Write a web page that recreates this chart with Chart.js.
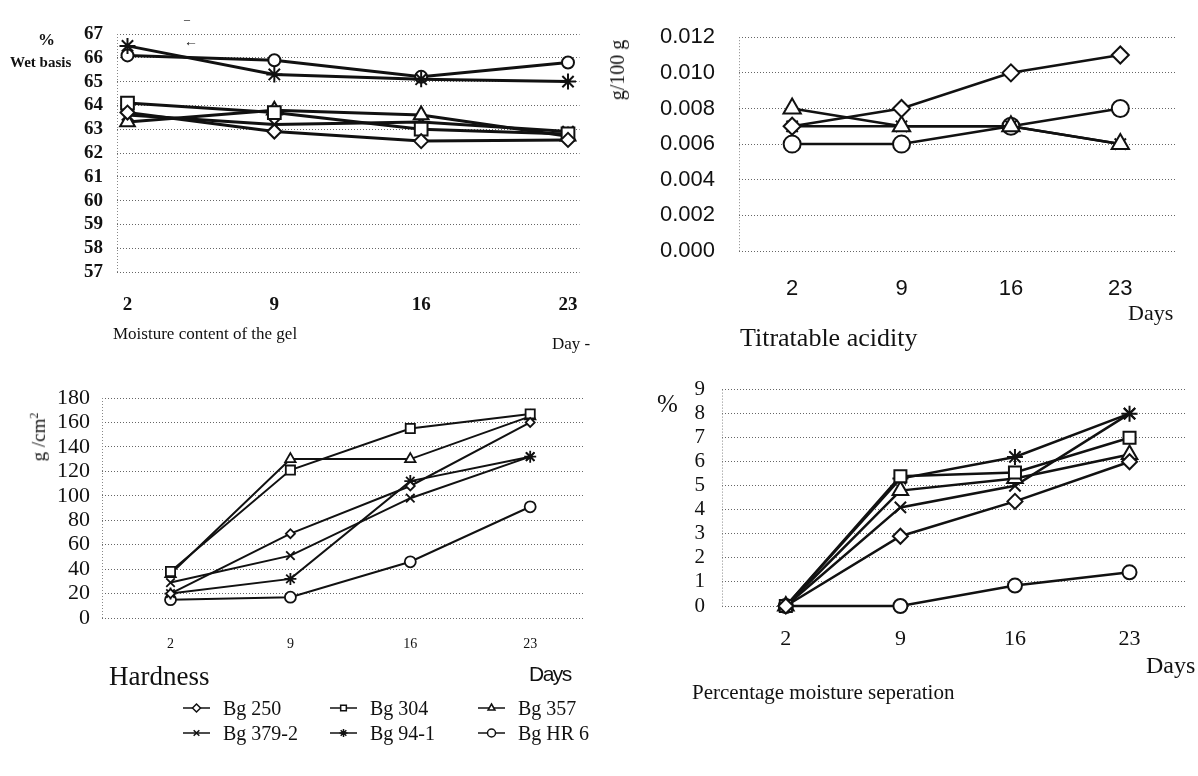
<!DOCTYPE html>
<html>
<head>
<meta charset="utf-8">
<script src="https://cdn.jsdelivr.net/npm/chart.js@4.4.1/dist/chart.umd.min.js"></script>
<style>
body { margin:0; background:#fff; width:1198px; height:776px; position:relative; overflow:hidden; font-family:"Liberation Serif", serif; color:#111; }
canvas { position:absolute; }
.lbl { position:absolute; white-space:nowrap; line-height:1; transform:translateY(-50%); }
.rot { position:absolute; white-space:nowrap; line-height:1; transform:translate(-50%,-50%) rotate(-90deg); }
</style>
</head>
<body>
<canvas id="c1" width="600" height="330" style="left:0;top:0"></canvas>
<canvas id="c2" width="598" height="330" style="left:600px;top:0"></canvas>
<canvas id="c3" width="600" height="330" style="left:0;top:360px"></canvas>
<canvas id="c4" width="598" height="330" style="left:600px;top:360px"></canvas>
<canvas id="leg" width="600" height="80" style="left:0;top:690px"></canvas>

<div class="lbl" style="left:38px;top:39px;font-size:17px;font-weight:bold">%</div>
<div class="lbl" style="left:10px;top:62px;font-size:15px;font-weight:bold">Wet basis</div>
<div class="lbl" style="left:184px;top:19px;font-size:12px">‒</div>
<div class="lbl" style="left:184px;top:42px;font-size:14px">←</div>
<div class="lbl" style="left:113px;top:333px;font-size:17px">Moisture content of the gel</div>
<div class="lbl" style="left:552px;top:343px;font-size:17px">Day -</div>

<div class="rot" style="left:617px;top:70px;font-size:20px">g/100 g</div>
<div class="lbl" style="left:1128px;top:313px;font-size:22px">Days</div>
<div class="lbl" style="left:740px;top:338px;font-size:26px">Titratable acidity</div>

<div class="rot" style="left:38px;top:437px;font-size:19px">g /cm<sup style="font-size:12px">2</sup></div>
<div class="lbl" style="left:109px;top:676px;font-size:27px">Hardness</div>
<div class="lbl" style="left:529px;top:673px;font-size:21px;font-family:'Liberation Sans',sans-serif;letter-spacing:-1.5px">Days</div>

<div class="lbl" style="left:657px;top:403px;font-size:25px">%</div>
<div class="lbl" style="left:1146px;top:665px;font-size:24px">Days</div>
<div class="lbl" style="left:692px;top:692px;font-size:21px">Percentage moisture seperation</div>

<div id="legtext"></div>

<script>
// storage days and rice varieties
var days = [2, 9, 16, 23];
var varieties = ['Bg 250', 'Bg 304', 'Bg 357', 'Bg 379-2', 'Bg 94-1', 'Bg HR 6'];

// one row per variety, same order as varieties
var moisture = [
    [63.7, 62.9, 62.5, 62.55],
    [64.1, 63.7, 63.0, 62.8],
    [63.3, 63.8, 63.6, 62.7],
    [63.6, 63.2, 63.3, 62.9],
    [66.5, 65.3, 65.1, 65.0],
    [66.1, 65.9, 65.2, 65.8]
];
var acidity = [
    [0.007, 0.008, 0.010, 0.011],
    null,
    [0.008, 0.007, 0.007, 0.006],
    [0.007, 0.007, 0.007, 0.006],
    null,
    [0.006, 0.006, 0.007, 0.008]
];
var hardness = [
    [20, 69, 108, 160],
    [38, 121, 155, 167],
    [36, 130, 130, 165],
    [29, 51, 98, 132],
    [20, 32, 112, 132],
    [15, 17, 46, 91]
];
var separation = [
    [0, 2.9, 4.35, 6.0],
    [0, 5.4, 5.55, 7.0],
    [0, 4.8, 5.3, 6.3],
    [0, 4.1, 5.0, 8.0],
    [0, 5.3, 6.2, 8.0],
    [0, 0, 0.85, 1.4]
];

var moistureTicks = [57, 58, 59, 60, 61, 62, 63, 64, 65, 66, 67];
var acidityTicks = [0, 0.002, 0.004, 0.006, 0.008, 0.010, 0.012];
var hardnessTicks = [0, 20, 40, 60, 80, 100, 120, 140, 160, 180];
var separationTicks = [0, 1, 2, 3, 4, 5, 6, 7, 8, 9];

var markers = ['rectRot', 'rect', 'triangle', 'crossRot', 'star', 'circle'];

var leftLine = {
    id: 'leftLine',
    beforeDatasetsDraw: function (chart) {
        var a = chart.chartArea, c = chart.ctx;
        c.save();
        c.strokeStyle = '#888';
        c.lineWidth = 1;
        c.setLineDash([1, 2]);
        c.beginPath();
        c.moveTo(a.left + 0.5, a.top);
        c.lineTo(a.left + 0.5, a.bottom);
        c.stroke();
        c.restore();
    }
};

function desenare(id, valori, o) {
    var datasets = [];
    for (var i = 0; i < varieties.length; i++) {
        if (!valori[i]) continue;
        var pts = [];
        for (var j = 0; j < days.length; j++) pts.push({ x: days[j], y: valori[i][j] });
        datasets.push({
            label: varieties[i],
            data: pts,
            borderColor: '#111',
            backgroundColor: '#fff',
            borderWidth: o.lw,
            pointStyle: markers[i],
            pointRadius: o.pr[i],
            pointBorderWidth: o.pbw,
            pointBorderColor: '#111',
            pointBackgroundColor: '#fff',
            tension: 0,
            clip: false
        });
    }
    return new Chart(document.getElementById(id).getContext('2d'), {
        type: 'line',
        data: { datasets: datasets },
        plugins: [leftLine],
        options: {
            responsive: false,
            animation: false,
            layout: { padding: { left: 0, right: o.right, top: o.top, bottom: 0 } },
            plugins: { legend: { display: false }, tooltip: { enabled: false } },
            scales: {
                x: {
                    type: 'linear',
                    min: o.xmin,
                    max: o.xmax,
                    afterBuildTicks: function (s) { s.ticks = days.map(function (d) { return { value: d }; }); },
                    afterFit: function (s) { s.height = o.xh; },
                    grid: { display: false, drawTicks: false },
                    border: { display: false },
                    ticks: { font: o.xfont, color: '#111', padding: o.xpad, maxRotation: 0, autoSkip: false }
                },
                y: {
                    min: o.ymin,
                    max: o.ymax,
                    afterBuildTicks: function (s) { s.ticks = o.yticks.map(function (v) { return { value: v }; }); },
                    afterFit: function (s) { s.width = o.yw; },
                    grid: { color: '#666', lineWidth: 1, drawTicks: false },
                    border: { display: false, dash: [1, 2] },
                    ticks: { font: o.yfont, color: '#111', padding: o.ypad, autoSkip: false, callback: o.fmt || function (v) { return v; } }
                }
            }
        }
    });
}

var serif = 'Liberation Serif';

desenare('c1', moisture, {
    lw: 3, pbw: 2, pr: [7, 9, 8.5, 8, 8, 6],
    right: 20, top: 34, xh: 58, yw: 117,
    xmin: 1.5, xmax: 23.55, ymin: 57, ymax: 67, yticks: moistureTicks,
    xfont: { family: serif, size: 19, weight: 'bold' }, xpad: 22,
    yfont: { family: serif, size: 19, weight: 'bold' }, ypad: 14
});

desenare('c2', acidity, {
    lw: 2.5, pbw: 2, pr: [8.5, 9, 10, 8, 8, 8.5],
    right: 23, top: 24, xh: 79, yw: 139,
    xmin: -1.4, xmax: 26.5, ymin: 0, ymax: 0.012, yticks: acidityTicks,
    xfont: { family: 'Liberation Sans', size: 22 }, xpad: 25,
    yfont: { family: 'Liberation Sans', size: 22 }, ypad: 24,
    fmt: function (v) { return v.toFixed(3); }
});

desenare('c3', hardness, {
    lw: 2, pbw: 1.8, pr: [4.5, 6.5, 6, 6, 6, 5.5],
    right: 15, top: 38, xh: 72, yw: 102,
    xmin: -2, xmax: 26.2, ymin: 0, ymax: 180, yticks: hardnessTicks,
    xfont: { family: serif, size: 14 }, xpad: 18,
    yfont: { family: serif, size: 22 }, ypad: 12
});

desenare('c4', separation, {
    lw: 2.5, pbw: 2, pr: [7.5, 8.5, 9, 8, 8, 7],
    right: 12, top: 21, xh: 84, yw: 122,
    xmin: -1.9, xmax: 26.45, ymin: 0, ymax: 9, yticks: separationTicks,
    xfont: { family: serif, size: 22 }, xpad: 20,
    yfont: { family: serif, size: 21 }, ypad: 17
});

// legend: symbols on a canvas, names as html text
var leg = document.getElementById('leg').getContext('2d');
var colX = [183, 330, 478];
var rowY = [18, 43];
var html = '';
for (var k = 0; k < varieties.length; k++) {
    var cx = colX[k % 3], cy = rowY[Math.floor(k / 3)];
    leg.strokeStyle = '#111';
    leg.lineWidth = 1.5;
    leg.beginPath();
    leg.moveTo(cx, cy);
    leg.lineTo(cx + 27, cy);
    leg.stroke();
    leg.fillStyle = '#fff';
    Chart.helpers.drawPoint(leg, { pointStyle: markers[k], radius: 4, borderWidth: 1.2 }, cx + 13.5, cy);
    html += '<div class="lbl" style="left:' + (cx + 40) + 'px;top:' + (690 + cy) + 'px;font-size:20px">' + varieties[k] + '</div>';
}
document.getElementById('legtext').innerHTML = html;
</script>
</body>
</html>
